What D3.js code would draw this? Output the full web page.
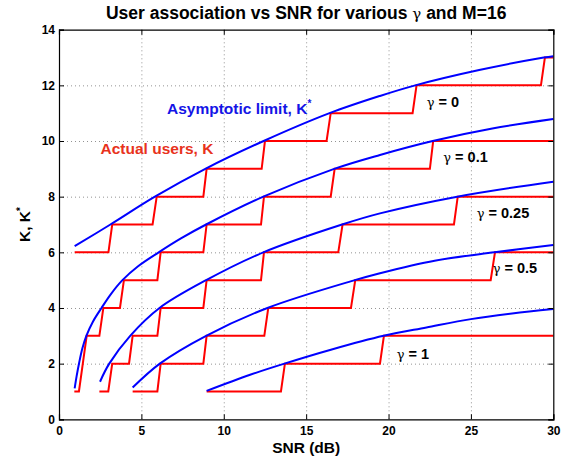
<!DOCTYPE html>
<html><head><meta charset="utf-8">
<script src="https://cdn.jsdelivr.net/npm/d3@7"></script>
<style>
body{margin:0;background:#fff}
svg{display:block}
text{font-family:"Liberation Sans",Arial,Helvetica,sans-serif;font-weight:bold}
</style>
</head><body>
<svg id="c" width="569" height="459"></svg>
<script>
// ---------- data ----------
const xTicks = [0,5,10,15,20,25,30];
const yTicks = [0,2,4,6,8,10,12,14];
const gammaLabels = ["0","0.1","0.25","0.5","1"];

// actual users K (step curves), [SNR dB, K]
const redG0   = [[0.95,6],[3.0,6],[3.23,7],[5.68,7],[5.93,8],[8.76,8],[8.96,9],[12.3,9],[12.5,10],[16.24,10],[16.49,11],[21.46,11],[21.7,12],[29.25,12],[29.49,13],[30,13]];
const redG01  = [[0.93,1],[1.21,1],[1.68,3],[2.45,3],[2.69,4],[3.70,4],[3.94,5],[5.97,5],[6.17,6],[8.76,6],[8.96,7],[12.26,7],[12.44,8],[16.49,8],[16.73,9],[22.51,9],[22.71,10],[30,10]];
const redG025 = [[2.45,1],[2.99,1],[3.23,2],[4.25,2],[4.47,3],[5.97,3],[6.17,4],[8.76,4],[8.96,5],[12.26,5],[12.44,6],[16.95,6],[17.21,7],[23.97,7],[24.2,8],[30,8]];
const redG05  = [[4.47,1],[5.97,1],[6.17,2],[8.76,2],[8.96,3],[12.46,3],[12.7,4],[17.72,4],[17.98,5],[26.2,5],[26.46,6],[30,6]];
const redG1   = [[8.96,1],[13.47,1],[13.71,2],[19.48,2],[19.72,3],[30,3]];

// asymptotic limit K*, [SNR dB, K*]
const blueG0   = [[0.95,6.22],[3.12,7.0],[5.82,8.0],[8.88,9.0],[12.42,10.0],[16.42,11.0],[19.48,11.62],[21.62,12.0],[25.5,12.55],[29.42,13.0],[30,13.05]];
const blueG01  = [[0.95,1.11],[1.07,1.55],[1.23,2.05],[1.42,2.55],[1.66,3.0],[2.05,3.5],[2.58,4.0],[3.15,4.5],[3.85,5.0],[4.8,5.5],[6.05,6.0],[7.4,6.5],[8.93,7.0],[12.4,8.0],[16.7,9.0],[19.48,9.5],[22.68,10.0],[26.3,10.45],[30,10.79]];
const blueG025 = [[2.49,1.35],[3.05,2.0],[4.32,3.0],[6.1,4.0],[8.93,5.0],[12.4,6.0],[17.18,7.0],[19.48,7.4],[24.17,8.0],[30,8.54]];
const blueG05  = [[4.47,1.14],[6.12,2.0],[8.93,3.0],[12.65,4.0],[17.95,5.0],[19.48,5.25],[22.8,5.7],[26.43,6.0],[30,6.26]];
const blueG1   = [[8.96,1.02],[11.6,1.6],[13.68,2.0],[16.5,2.5],[19.7,3.0],[22.3,3.3],[25.0,3.6],[27.5,3.8],[30,3.96]];

const redSeries  = [redG0, redG01, redG025, redG05, redG1];
const blueSeries = [blueG0, blueG01, blueG025, blueG05, blueG1];

// ---------- layout ----------
const L = 59, R = 553.3, T = 29.7, B = 419.3;
const x = d3.scaleLinear().domain([0,30]).range([L,R]);
const y = d3.scaleLinear().domain([0,14]).range([B,T]);
const svg = d3.select("#c");

// grid
const gx = svg.append("g").attr("transform",`translate(0,${B})`)
  .call(d3.axisBottom(x).tickValues(xTicks.slice(1,-1)).tickSize(-(B-T)).tickFormat(""));
const gy = svg.append("g").attr("transform",`translate(${L},0)`)
  .call(d3.axisLeft(y).tickValues(yTicks.slice(1,-1)).tickSize(-(R-L)).tickFormat(""));
[gx,gy].forEach(g=>{
  g.select(".domain").remove();
  g.selectAll("line").attr("stroke","#777").attr("stroke-width",0.8).attr("stroke-dasharray","1,3");
});

// lines
const line = d3.line().x(d=>x(d[0])).y(d=>y(d[1]));
const curve = d3.line().x(d=>x(d[0])).y(d=>y(d[1])).curve(d3.curveCatmullRom.alpha(0.5));
svg.append("g").selectAll("path").data(redSeries).join("path")
  .attr("d",line).attr("fill","none").attr("stroke","#ff0000").attr("stroke-width",2);
svg.append("g").selectAll("path").data(blueSeries).join("path")
  .attr("d",curve).attr("fill","none").attr("stroke","#0000ff").attr("stroke-width",2);

// axes (ticks inward on all sides)
const ax = svg.append("g").attr("transform",`translate(0,${B})`)
  .call(d3.axisBottom(x).tickValues(xTicks).tickSize(-5).tickPadding(7.5));
const axT = svg.append("g").attr("transform",`translate(0,${T})`)
  .call(d3.axisTop(x).tickValues(xTicks).tickSize(-5).tickFormat(""));
const ay = svg.append("g").attr("transform",`translate(${L},0)`)
  .call(d3.axisLeft(y).tickValues(yTicks).tickSize(-5).tickPadding(4));
const ayR = svg.append("g").attr("transform",`translate(${R},0)`)
  .call(d3.axisRight(y).tickValues(yTicks).tickSize(-5).tickFormat(""));
[ax,axT,ay,ayR].forEach(g=>{
  g.select(".domain").attr("stroke","#000").attr("stroke-width",1.2);
  g.selectAll(".tick line").attr("stroke","#000").attr("stroke-width",1);
  g.selectAll("text").attr("font-size","12px").attr("fill","#000")
    .style("font-family",'"Liberation Sans",Arial,sans-serif').style("font-weight","bold");
});

// title
const title = svg.append("text").attr("x",(L+R)/2).attr("y",18.5)
  .attr("text-anchor","middle").attr("font-size","17.5px").attr("fill","#000");
title.append("tspan").text("User association vs SNR for various ");
title.append("tspan").text("γ").style("font-weight","normal").style("font-family",'"DejaVu Serif","Liberation Serif",serif').attr("font-size","15px");
title.append("tspan").text(" and M=16");

// axis labels
svg.append("text").attr("x",(L+R)/2).attr("y",453).attr("text-anchor","middle")
  .attr("font-size","15.5px").attr("fill","#000").text("SNR (dB)");
const yl = svg.append("text").attr("transform",`translate(30,${(T+B)/2}) rotate(-90)`)
  .attr("text-anchor","middle").attr("font-size","15.5px").attr("fill","#000");
yl.append("tspan").text("K, K");
yl.append("tspan").text("*").attr("font-size","10px").attr("dy","-6");

// annotations
const asy = svg.append("text").attr("x",167).attr("y",114.3).attr("font-size","15.5px").attr("fill","#1414e6");
asy.append("tspan").text("Asymptotic limit, K");
asy.append("tspan").text("*").attr("font-size","10px").attr("dy","-7");
svg.append("text").attr("x",100.5).attr("y",154).attr("font-size","15.5px").attr("fill","#e8321c").text("Actual users, K");

const gPos = [[426.7,106.7],[443.3,161.7],[476.7,218.3],[492.7,272.7],[396.7,359.3]];
gammaLabels.forEach((g,i)=>{
  const t = svg.append("text").attr("x",gPos[i][0]).attr("y",gPos[i][1]).attr("font-size","14.5px").attr("fill","#000");
  t.append("tspan").text("γ").style("font-weight","normal").style("font-family",'"DejaVu Serif","Liberation Serif",serif').attr("font-size","13px");
  t.append("tspan").text(" = " + g);
});
</script>
</body></html>
